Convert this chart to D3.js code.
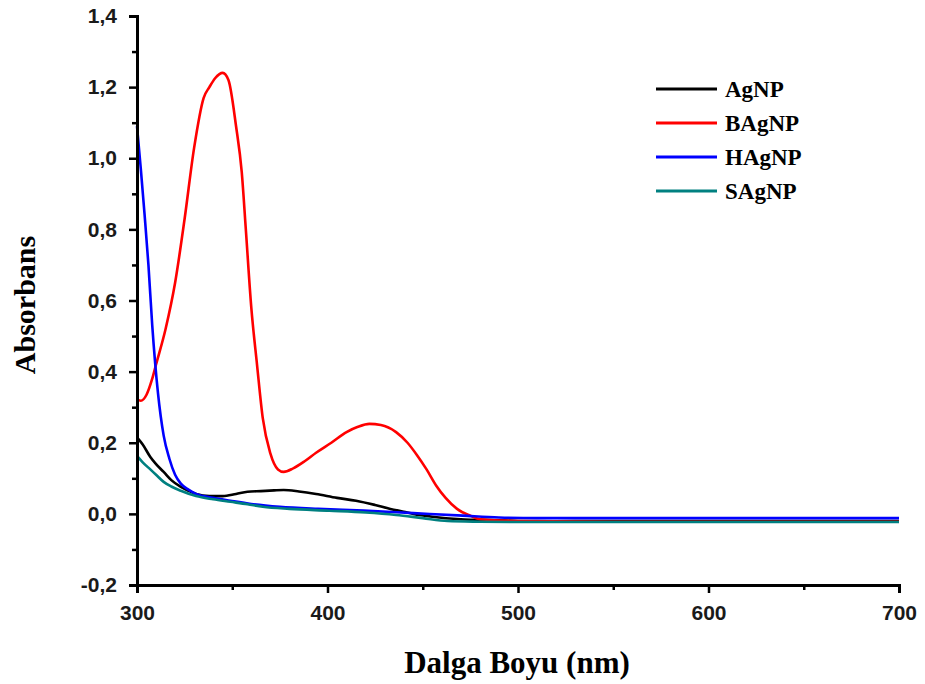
<!DOCTYPE html>
<html>
<head>
<meta charset="utf-8">
<script src="https://cdn.jsdelivr.net/npm/d3@7"></script>
<style>
  body { margin: 0; background: #fff; }
  svg { display: block; }
</style>
</head>
<body>
<svg id="chart" width="925" height="684"></svg>
<script>
// series data (wavelength nm / absorbance)
const agnpNm  = [300, 303, 307, 310, 314, 318, 323, 327, 331, 338, 345, 352, 358, 365, 372, 377, 385, 394, 405, 415, 425, 433, 440, 445, 455, 470, 490, 500, 520, 540, 600, 650, 700];
const agnpAbs = [0.215, 0.195, 0.16, 0.14, 0.118, 0.095, 0.076, 0.065, 0.056, 0.05, 0.05, 0.056, 0.062, 0.064, 0.066, 0.067, 0.063, 0.056, 0.045, 0.037, 0.025, 0.014, 0.006, 0.0, -0.008, -0.015, -0.018, -0.02, -0.021, -0.02, -0.02, -0.02, -0.02];

const bagnpNm  = [300, 302, 305, 308, 310, 315, 320, 325, 330, 335, 338, 341, 345, 348, 352, 355, 357, 360, 363, 366, 370, 374, 377, 382, 388, 394, 402, 410, 416, 422, 428, 436, 442, 447, 452, 457, 462, 468, 475, 480, 500, 550, 600, 650, 700];
const bagnpAbs = [0.323, 0.318, 0.335, 0.38, 0.42, 0.52, 0.65, 0.83, 1.03, 1.17, 1.2, 1.225, 1.24, 1.22, 1.09, 0.96, 0.81, 0.58, 0.42, 0.27, 0.17, 0.125, 0.118, 0.128, 0.148, 0.172, 0.2, 0.23, 0.245, 0.253, 0.25, 0.23, 0.2, 0.165, 0.125, 0.08, 0.045, 0.014, -0.005, -0.015, -0.02, -0.022, -0.022, -0.022, -0.022];

const hagnpNm  = [300, 302, 304, 306, 308, 311, 314, 317, 320, 323, 327, 331, 340, 349, 360, 375, 395, 419, 445, 471, 490, 510, 550, 600, 650, 700];
const hagnpAbs = [1.09, 0.97, 0.84, 0.70, 0.53, 0.34, 0.22, 0.155, 0.11, 0.085, 0.068, 0.056, 0.045, 0.037, 0.028, 0.02, 0.014, 0.009, 0.002, -0.005, -0.01, -0.012, -0.012, -0.012, -0.012, -0.012];

const sagnpNm  = [300, 303, 307, 310, 314, 318, 323, 331, 340, 349, 358, 366, 380, 401, 420, 436, 450, 463, 480, 500, 550, 600, 650, 700];
const sagnpAbs = [0.163, 0.145, 0.125, 0.11, 0.09, 0.077, 0.065, 0.05, 0.041, 0.034, 0.027, 0.02, 0.014, 0.009, 0.004, -0.003, -0.012, -0.02, -0.022, -0.023, -0.023, -0.023, -0.023, -0.023];

const seriesNames  = ["AgNP", "BAgNP", "HAgNP", "SAgNP"];
const seriesColors = ["#000000", "#ff0000", "#0000ff", "#008080"];
const seriesNm  = [agnpNm, bagnpNm, hagnpNm, sagnpNm];
const seriesAbs = [agnpAbs, bagnpAbs, hagnpAbs, sagnpAbs];

const xMajorTicks = [300, 400, 500, 600, 700];
const xMinorTicks = [350, 450, 550, 650];
const yMajorTicks = [-0.2, 0, 0.2, 0.4, 0.6, 0.8, 1.0, 1.2, 1.4];
const yMinorTicks = [-0.1, 0.1, 0.3, 0.5, 0.7, 0.9, 1.1, 1.3];

const svg = d3.select("#chart");
const plotLeft = 137, plotRight = 899, plotTop = 16, plotBottom = 585;

const x = d3.scaleLinear().domain([300, 700]).range([plotLeft, plotRight]);
const y = d3.scaleLinear().domain([-0.2, 1.4]).range([plotBottom, plotTop]);

const commaFmt = (d) => d3.format(".1f")(d).replace(".", ",").replace("−", "-");

// lines
const line = d3.line()
  .x((d) => x(d[0]))
  .y((d) => y(d[1]))
  .curve(d3.curveMonotoneX);

const plot = svg.append("g");
seriesNames.forEach((name, i) => {
  const pts = seriesNm[i].map((nm, j) => [nm, seriesAbs[i][j]]);
  plot.append("path")
    .datum(pts)
    .attr("fill", "none")
    .attr("stroke", seriesColors[i])
    .attr("stroke-width", 2.6)
    .attr("stroke-linejoin", "round")
    .attr("d", line);
});

// axes
const xAxis = svg.append("g")
  .attr("transform", `translate(0,${plotBottom})`)
  .call(d3.axisBottom(x).tickValues(xMajorTicks).tickSize(8).tickPadding(12).tickFormat(d3.format("d")));
svg.append("g")
  .attr("transform", `translate(0,${plotBottom})`)
  .call(d3.axisBottom(x).tickValues(xMinorTicks).tickSize(5).tickFormat(""))
  .select(".domain").remove();

const yAxis = svg.append("g")
  .attr("transform", `translate(${plotLeft},0)`)
  .call(d3.axisLeft(y).tickValues(yMajorTicks).tickSize(8).tickPadding(12).tickFormat(commaFmt));
svg.append("g")
  .attr("transform", `translate(${plotLeft},0)`)
  .call(d3.axisLeft(y).tickValues(yMinorTicks).tickSize(5).tickFormat(""))
  .select(".domain").remove();

svg.selectAll(".domain").attr("stroke", "#000").attr("stroke-width", 3);
svg.selectAll(".tick line").attr("stroke", "#000").attr("stroke-width", 2.5);
svg.selectAll(".tick text")
  .attr("fill", "#1a1a1a")
  .attr("font-family", "'Liberation Sans', Arial, sans-serif")
  .attr("font-weight", "bold")
  .attr("font-size", 21);

// axis titles
svg.append("text")
  .attr("x", 517)
  .attr("y", 673)
  .attr("text-anchor", "middle")
  .attr("font-family", "'Liberation Serif', 'Times New Roman', serif")
  .attr("font-weight", "bold")
  .attr("font-size", 31)
  .text("Dalga Boyu (nm)");

svg.append("text")
  .attr("transform", "translate(35,305) rotate(-90)")
  .attr("text-anchor", "middle")
  .attr("font-family", "'Liberation Serif', 'Times New Roman', serif")
  .attr("font-weight", "bold")
  .attr("font-size", 30)
  .text("Absorbans");

// legend
const legend = svg.append("g");
seriesNames.forEach((name, i) => {
  const ly = 89 + i * 34;
  legend.append("line")
    .attr("x1", 656).attr("x2", 717)
    .attr("y1", ly).attr("y2", ly)
    .attr("stroke", seriesColors[i])
    .attr("stroke-width", 3);
  legend.append("text")
    .attr("x", 725)
    .attr("y", ly + 8)
    .attr("font-family", "'Liberation Serif', 'Times New Roman', serif")
    .attr("font-weight", "bold")
    .attr("font-size", 23)
    .text(name);
});
</script>
</body>
</html>
